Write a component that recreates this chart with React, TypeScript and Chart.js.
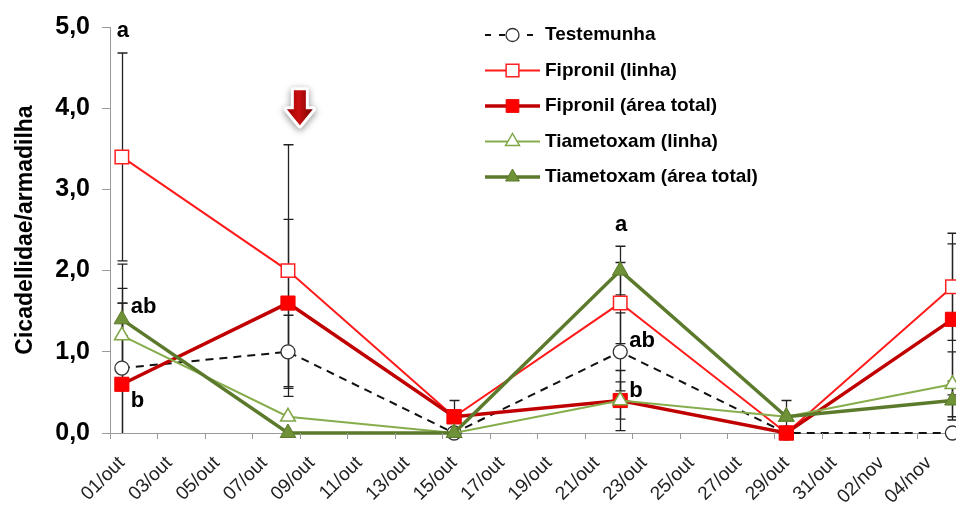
import React, { useEffect, useRef } from 'react';
import { Chart, registerables } from 'chart.js';

Chart.register(...registerables);

// ---------- data ----------
const sampleDates = ['01/out', '08/out', '15/out', '22/out', '29/out', '05/nov'];
const tickLabels = [
  '01/out', '03/out', '05/out', '07/out', '09/out', '11/out', '13/out', '15/out', '17/out',
  '19/out', '21/out', '23/out', '25/out', '27/out', '29/out', '31/out', '02/nov', '04/nov',
];
const yTickValues = [0, 1, 2, 3, 4, 5];

const seriesNames = [
  'Testemunha',
  'Fipronil (linha)',
  'Fipronil (área total)',
  'Tiametoxam (linha)',
  'Tiametoxam (área total)',
];

const testemunha = [0.8, 1.0, 0.0, 1.0, 0.0, 0.0];
const fipronilLinha = [3.4, 2.0, 0.2, 1.6, 0.0, 1.8];
const fipronilArea = [0.6, 1.6, 0.2, 0.4, 0.0, 1.4];
const tiametoxamLinha = [1.2, 0.2, 0.0, 0.4, 0.2, 0.6];
const tiametoxamArea = [1.4, 0.0, 0.0, 2.0, 0.2, 0.4];

const testemunhaErr = [1.28, 0.45, 0, 0.48, 0, 0];
const fipronilLinhaErr = [1.28, 1.55, 0, 0.5, 0, 0.66];
const fipronilAreaErr = [1.18, 1.03, 0.2, 0.37, 0, 0.93];
const tiametoxamLinhaErr = [0.4, 0, 0, 0.23, 0, 0.4];
const tiametoxamAreaErr = [0.2, 0, 0, 0.3, 0.2, 0.24];

const letterDates = ['01/out', '01/out', '01/out', '22/out', '22/out', '22/out'];
const letterTexts = ['a', 'ab', 'b', 'a', 'ab', 'b'];
const letterValues = [4.88, 1.48, 0.32, 2.49, 1.06, 0.44];

const applicationDate = '09/out';
const applicationArrowValue = 4.22;

const yTitle = 'Cicadellidae/armadilha';

// ---------- helpers ----------
const FONT = "'Liberation Sans', Arial, Helvetica, sans-serif";

function dayIndex(label: string): number {
  const [d, m] = label.split('/');
  return (m === 'out' ? 0 : 31) + Number(d) - 1 + 0.5;
}

const allValues = [testemunha, fipronilLinha, fipronilArea, tiametoxamLinha, tiametoxamArea];
const allErrors = [testemunhaErr, fipronilLinhaErr, fipronilAreaErr, tiametoxamLinhaErr, tiametoxamAreaErr];

type Style = {
  line: string;
  width: number;
  dash: number[];
  shape: 'circle' | 'rect' | 'triangle';
  radius: number;
  fill: string;
  stroke: string;
  strokeWidth: number;
};

const styles: Style[] = [
  { line: '#111111', width: 2, dash: [8, 6], shape: 'circle', radius: 7, fill: '#ffffff', stroke: '#333333', strokeWidth: 1.3 },
  { line: '#ff1a1a', width: 2, dash: [], shape: 'rect', radius: 9.5, fill: '#ffffff', stroke: '#ff2020', strokeWidth: 1.5 },
  { line: '#c00000', width: 3.5, dash: [], shape: 'rect', radius: 10, fill: '#ff0000', stroke: '#ee0000', strokeWidth: 1 },
  { line: '#86ad4c', width: 2, dash: [], shape: 'triangle', radius: 8.5, fill: '#ffffff', stroke: '#7fa545', strokeWidth: 1.5 },
  { line: '#5b7a2b', width: 3.5, dash: [], shape: 'triangle', radius: 9, fill: '#6f9138', stroke: '#5b7a2b', strokeWidth: 1 },
];

function drawMarker(ctx: CanvasRenderingContext2D, s: Style, x: number, y: number) {
  ctx.save();
  ctx.setLineDash([]);
  ctx.beginPath();
  const r = s.radius;
  if (s.shape === 'circle') {
    ctx.arc(x, y, r, 0, Math.PI * 2);
  } else if (s.shape === 'rect') {
    const h = r * Math.SQRT1_2;
    ctx.rect(x - h, y - h, 2 * h, 2 * h);
  } else {
    ctx.moveTo(x, y - r);
    ctx.lineTo(x + 0.866 * r, y + 0.5 * r);
    ctx.lineTo(x - 0.866 * r, y + 0.5 * r);
    ctx.closePath();
  }
  ctx.fillStyle = s.fill;
  ctx.fill();
  ctx.lineWidth = s.strokeWidth;
  ctx.strokeStyle = s.stroke;
  ctx.stroke();
  ctx.restore();
}

// ---------- plugins ----------
const xTickMarksPlugin = {
  id: 'xTickMarks',
  afterDraw(chart: any) {
    const { ctx, chartArea, scales } = chart;
    const x = scales.x;
    ctx.save();
    ctx.strokeStyle = '#9a9a9a';
    ctx.lineWidth = 1;
    ctx.beginPath();
    tickLabels.forEach((l) => {
      const px = Math.round(x.getPixelForValue(dayIndex(l) - 0.5)) + 0.5;
      ctx.moveTo(px, chartArea.bottom);
      ctx.lineTo(px, chartArea.bottom + 6);
    });
    ctx.stroke();
    ctx.restore();
  },
};

const errorBarsPlugin = {
  id: 'errorBars',
  beforeDatasetsDraw(chart: any) {
    const { ctx, chartArea, scales } = chart;
    const x = scales.x;
    const y = scales.y;
    ctx.save();
    ctx.beginPath();
    ctx.rect(chartArea.left, chartArea.top - 2, chartArea.right - chartArea.left, chartArea.bottom - chartArea.top + 2);
    ctx.clip();
    ctx.strokeStyle = '#222222';
    ctx.lineWidth = 1.3;
    allValues.forEach((vals, s) => {
      vals.forEach((v, i) => {
        const e = allErrors[s][i];
        if (!e) return;
        const px = Math.round(x.getPixelForValue(dayIndex(sampleDates[i]))) + 0.5;
        const top = y.getPixelForValue(v + e);
        const bot = y.getPixelForValue(v - e);
        ctx.beginPath();
        ctx.moveTo(px, top);
        ctx.lineTo(px, bot);
        ctx.moveTo(px - 5, top);
        ctx.lineTo(px + 5, top);
        ctx.moveTo(px - 5, bot);
        ctx.lineTo(px + 5, bot);
        ctx.stroke();
      });
    });
    ctx.restore();
  },
};

const annotationsPlugin = {
  id: 'annotations',
  afterDatasetsDraw(chart: any) {
    const { ctx, scales } = chart;
    const x = scales.x;
    const y = scales.y;
    ctx.save();
    ctx.fillStyle = '#000000';
    ctx.font = `bold 22px ${FONT}`;
    ctx.textBaseline = 'alphabetic';
    letterTexts.forEach((t, i) => {
      const px = x.getPixelForValue(dayIndex(letterDates[i]));
      const py = y.getPixelForValue(letterValues[i]);
      if (t === 'a') {
        ctx.textAlign = 'center';
        ctx.fillText(t, px + 1, py);
      } else {
        ctx.textAlign = 'left';
        ctx.fillText(t, px + 9, py);
      }
    });

    // application arrow
    const ax = x.getPixelForValue(dayIndex(applicationDate) - 0.5);
    const ay = y.getPixelForValue(applicationArrowValue);
    const path = () => {
      ctx.beginPath();
      ctx.moveTo(ax - 6, ay);
      ctx.lineTo(ax + 6, ay);
      ctx.lineTo(ax + 6, ay + 19);
      ctx.lineTo(ax + 13, ay + 19);
      ctx.lineTo(ax, ay + 35);
      ctx.lineTo(ax - 13, ay + 19);
      ctx.lineTo(ax - 6, ay + 19);
      ctx.closePath();
    };
    ctx.save();
    ctx.shadowColor = 'rgba(0,0,0,0.45)';
    ctx.shadowBlur = 7;
    ctx.shadowOffsetY = 2;
    path();
    ctx.lineJoin = 'round';
    ctx.lineWidth = 6;
    ctx.strokeStyle = '#ffffff';
    ctx.stroke();
    ctx.restore();
    path();
    const g = ctx.createLinearGradient(ax - 13, 0, ax + 13, 0);
    g.addColorStop(0, '#a00000');
    g.addColorStop(0.45, '#c81010');
    g.addColorStop(1, '#7a0000');
    ctx.fillStyle = g;
    ctx.fill();
    ctx.restore();
  },
};

const legendPlugin = {
  id: 'customLegend',
  afterDraw(chart: any) {
    const { ctx } = chart;
    const x0 = 485;
    const x1 = 540;
    const y0 = 35;
    const dy = 35.5;
    ctx.save();
    seriesNames.forEach((name, i) => {
      const s = styles[i];
      const yy = y0 + i * dy;
      ctx.save();
      ctx.strokeStyle = s.line;
      ctx.lineWidth = s.width;
      ctx.setLineDash(s.dash.length ? [6, 8] : []);
      ctx.beginPath();
      ctx.moveTo(x0, yy);
      ctx.lineTo(x1, yy);
      ctx.stroke();
      ctx.restore();
      drawMarker(ctx, { ...s, radius: s.shape === 'circle' ? 6.5 : s.shape === 'rect' ? 9 : 8 }, (x0 + x1) / 2, yy);
      ctx.fillStyle = '#000000';
      ctx.font = `bold 19px ${FONT}`;
      ctx.textAlign = 'left';
      ctx.textBaseline = 'middle';
      ctx.fillText(name, x1 + 5, yy);
    });
    ctx.restore();
  },
};

// ---------- component ----------
export default function App() {
  const ref = useRef<HTMLCanvasElement | null>(null);

  useEffect(() => {
    if (!ref.current) return;
    const datasets = seriesNames.map((name, s) => {
      const st = styles[s];
      return {
        label: name,
        data: allValues[s].map((v, i) => ({ x: dayIndex(sampleDates[i]), y: v })),
        borderColor: st.line,
        borderWidth: st.width,
        borderDash: st.dash,
        pointStyle: st.shape,
        pointRadius: st.radius,
        pointBackgroundColor: st.fill,
        pointBorderColor: st.stroke,
        pointBorderWidth: st.strokeWidth,
        fill: false,
        tension: 0,
        clip: false as any,
        order: seriesNames.length - s,
      };
    });

    const chart = new Chart(ref.current, {
      type: 'line',
      data: { datasets },
      options: {
        animation: false,
        responsive: true,
        maintainAspectRatio: false,
        devicePixelRatio: 1,
        layout: { autoPadding: false, padding: { top: 27, right: 0, bottom: 0, left: 0 } },
        plugins: {
          legend: { display: false },
          tooltip: { enabled: false },
        },
        scales: {
          x: {
            type: 'linear',
            min: 0,
            max: 35.65,
            afterBuildTicks: (scale: any) => {
              scale.ticks = tickLabels.map((l) => ({ value: dayIndex(l) }));
            },
            afterFit: (scale: any) => {
              scale.height = 74;
              scale.paddingLeft = 0;
              scale.paddingRight = 0;
            },
            grid: { display: false },
            border: { display: true, color: '#9a9a9a', width: 1 },
            ticks: {
              autoSkip: false,
              minRotation: 45,
              maxRotation: 45,
              padding: 11,
              color: '#222222',
              font: { family: FONT, size: 19 },
              callback: (_v: any, i: number) => tickLabels[i],
            },
          },
          y: {
            type: 'linear',
            min: 0,
            max: 5,
            afterBuildTicks: (scale: any) => {
              scale.ticks = yTickValues.map((v) => ({ value: v }));
            },
            afterFit: (scale: any) => {
              scale.width = 110;
            },
            grid: {
              display: true,
              drawOnChartArea: false,
              drawTicks: true,
              tickLength: 8,
              color: '#9a9a9a',
            },
            border: { display: true, color: '#9a9a9a', width: 1 },
            ticks: {
              padding: 12,
              color: '#000000',
              font: { family: FONT, size: 25, weight: 'bold' },
              callback: (v: any) => Number(v).toFixed(1).replace('.', ','),
            },
            title: {
              display: true,
              text: yTitle,
              color: '#000000',
              font: { family: FONT, size: 23, weight: 'bold' },
              padding: { top: 12, bottom: 0 },
            },
          },
        },
      } as any,
      plugins: [errorBarsPlugin, annotationsPlugin, xTickMarksPlugin, legendPlugin],
    });
    return () => chart.destroy();
  }, []);

  return (
    <div style={{ position: 'fixed', left: 0, top: 0, width: 956, height: 507, background: '#ffffff' }}>
      <canvas ref={ref} />
    </div>
  );
}
